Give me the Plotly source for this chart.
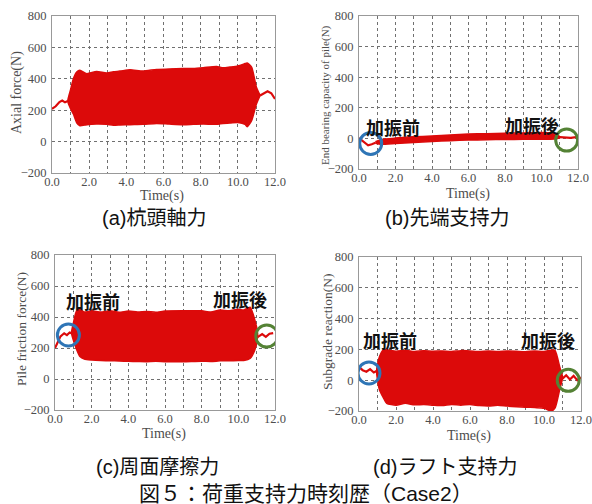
import plotly.graph_objects as go

RED = "#DC0A0A"
BLUE = "#2E75B6"
GREEN = "#548235"

# ---------------- data ----------------
# (a) pile head axial force
a_pre_t = [0.0, 0.2, 0.4, 0.55, 0.7, 0.85]
a_pre_v = [208, 225, 252, 262, 250, 258]
a_band_t = [0.85, 1.0, 1.15, 1.33, 1.5, 1.87, 2.4, 2.94, 3.3, 3.66, 4.2, 4.9, 5.63, 6.3, 7.06, 7.6,
            8.14, 8.86, 9.2, 9.58, 10.0, 10.39, 10.5, 10.74, 11.0, 11.2]
a_band_hi = [258, 330, 400, 443, 454, 433, 447, 437, 445, 449, 458, 449, 460, 462, 465, 466,
             471, 479, 470, 475, 482, 497, 501, 475, 347, 294]
a_band_lo = [258, 210, 176, 120, 101, 108, 112, 110, 104, 106, 108, 110, 116, 112, 108, 110,
             112, 110, 116, 118, 122, 110, 95, 133, 240, 294]
a_post_t = [11.2, 11.37, 11.6, 11.8, 12.0]
a_post_v = [294, 304, 321, 308, 272]

# (b) end bearing capacity of pile
b_pre_t = [0.0, 0.25, 0.5, 0.7, 0.9]
b_pre_v = [2, -20, -45, -38, -28]
b_band_t = [0.9, 1.2, 2, 3, 4, 5, 6, 7, 8, 9, 10, 10.5, 11.0]
b_band_hi = [-22, -8, 2, 10, 16, 22, 28, 31, 33, 36, 39, 36, 12]
b_band_lo = [-32, -38, -33, -26, -20, -15, -11, -9, -7, -6, -5, -6, 4]
b_post_t = [11.0, 11.3, 11.6, 12.0]
b_post_v = [8, 5, 4, 10]

# (c) pile friction force
c_pre_t = [0.0, 0.3, 0.5, 0.65, 0.8, 0.9]
c_pre_v = [200, 275, 295, 283, 300, 295]
c_band_t = [0.9, 1.0, 1.18, 1.36, 1.6, 2.0, 2.5, 3.0, 3.5, 4.0, 4.5, 5.0, 5.5, 6.0, 7.0, 8.0,
            8.5, 9.0, 9.5, 10.0, 10.3, 10.64, 10.9, 11.05]
c_band_hi = [295, 360, 441, 450, 432, 440, 432, 440, 430, 438, 432, 436, 430, 438, 440, 440,
             432, 445, 440, 450, 445, 463, 381, 295]
c_band_lo = [295, 252, 190, 145, 128, 122, 119, 118, 116, 114, 113, 112, 114, 112, 112, 115,
             113, 117, 118, 119, 120, 133, 187, 270]
c_post_t = [11.05, 11.3, 11.5, 11.7, 11.9]
c_post_v = [270, 290, 272, 292, 296]

# (d) subgrade reaction
d_pre_t = [0.0, 0.2, 0.4, 0.6, 0.8, 0.95]
d_pre_v = [86, 65, 55, 72, 50, 60]
d_band_t = [0.95, 1.1, 1.3, 1.5, 2.0, 2.5, 3.0, 3.5, 4.0, 4.5, 5.0, 5.5, 6.0, 6.5, 7.0, 7.5,
            8.0, 8.5, 9.0, 9.5, 10.0, 10.4, 10.6, 10.85, 11.0]
d_band_hi = [60, 150, 196, 198, 188, 194, 186, 192, 188, 190, 186, 192, 190, 186, 190, 186,
             190, 188, 185, 190, 186, 196, 192, 86, 25]
d_band_lo = [60, -60, -110, -150, -162, -150, -160, -158, -162, -165, -158, -162, -158, -165,
             -168, -162, -168, -172, -175, -178, -182, -200, -180, -60, 10]
d_post_t = [11.0, 11.2, 11.4, 11.6, 11.8, 12.0]
d_post_v = [10, 32, 5, 28, 0, 18]

y_titles = ["Axial force(N)", "End bearing capacity of pile(N)",
            "Pile friction force(N)", "Subgrade reaction(N)"]
x_title = "Time(s)"
captions = ["(a)杭頭軸力", "(b)先端支持力", "(c)周面摩擦力", "(d)ラフト支持力"]
fig_caption = "図５：荷重支持力時刻歴（Case2）"

# circle markers (time, value) and label positions
circles = {
    1: [(0.64, -33, BLUE), (11.38, -11, GREEN)],
    2: [(0.73, 284, BLUE), (11.55, 277, GREEN)],
    3: [(0.54, 47, BLUE), (11.31, -1, GREEN)],
}
labels = {
    1: [(1.88, 76, "加振前"), (9.46, 88, "加振後")],
    2: [(2.09, 503, "加振前"), (10.09, 516, "加振後")],
    3: [(1.68, 259, "加振前"), (10.23, 259, "加振後")],
}

W, H = 592, 504
# layout (pixels)
boxes = [(52, 275, 16, 173), (359, 578, 16, 169), (55, 275, 255, 410), (359, 581, 257, 411)]
ytitle_pos = [(17, 93, 14), (325, 95, 11), (21, 329, 13.5), (327, 332, 13.5)]
xtitle_pos = [(162, 196), (468, 194), (164, 434), (469, 436)]
cap_pos = [(154, 218), (447, 218), (157, 467), (445, 467)]

series = [
    (a_pre_t, a_pre_v, a_band_t, a_band_hi, a_band_lo, a_post_t, a_post_v),
    (b_pre_t, b_pre_v, b_band_t, b_band_hi, b_band_lo, b_post_t, b_post_v),
    (c_pre_t, c_pre_v, c_band_t, c_band_hi, c_band_lo, c_post_t, c_post_v),
    (d_pre_t, d_pre_v, d_band_t, d_band_hi, d_band_lo, d_post_t, d_post_v),
]

fig = go.Figure()
SERIF = "Liberation Serif, Times New Roman, serif"
JP = "Liberation Sans, Noto Sans CJK JP, sans-serif"
TXT = "#4d4d4d"

def paper(px, py):
    return px / W, 1 - py / H

for i, (pt, pv, bt, bh, bl, qt, qv) in enumerate(series):
    n = "" if i == 0 else str(i + 1)
    xa, ya = "x" + n, "y" + n
    fig.add_trace(go.Scatter(x=pt, y=pv, mode="lines", line=dict(color=RED, width=2.2),
                             xaxis=xa, yaxis=ya, showlegend=False, hoverinfo="skip"))
    fig.add_trace(go.Scatter(x=list(bt) + list(bt)[::-1], y=list(bh) + list(bl)[::-1],
                             mode="lines", fill="toself", fillcolor=RED,
                             line=dict(color=RED, width=1.5, shape="spline", smoothing=0.6),
                             xaxis=xa, yaxis=ya, showlegend=False, hoverinfo="skip"))
    fig.add_trace(go.Scatter(x=qt, y=qv, mode="lines", line=dict(color=RED, width=2.2),
                             xaxis=xa, yaxis=ya, showlegend=False, hoverinfo="skip"))

    l, r, t, b = boxes[i]
    grid = dict(showgrid=True, gridcolor="#707070", griddash="dot", gridwidth=1)
    fig.layout["xaxis" + n] = dict(
        domain=[l / W, r / W], anchor=ya, range=[0, 12], dtick=2, tickformat=".1f",
        minor=dict(dtick=1, **grid), **grid, automargin=False,
        showline=True, mirror=True, linecolor="#999", linewidth=1, zeroline=False,
        ticks="", ticklabelstandoff=-3, tickfont=dict(family=SERIF, size=12.5, color=TXT),
    )
    fig.layout["yaxis" + n] = dict(
        domain=[1 - b / H, 1 - t / H], anchor=xa, range=[-200, 800], dtick=200,
        **grid, showline=True, mirror=True, linecolor="#999", linewidth=1, zeroline=False,
        ticks="", ticklabelstandoff=2, automargin=False,
        tickfont=dict(family=SERIF, size=12.5, color=TXT),
    )
    yx, yy, ys = ytitle_pos[i]
    px_, py_ = paper(yx, yy)
    fig.add_annotation(text=y_titles[i], x=px_, y=py_, xref="paper", yref="paper",
                       xanchor="center", yanchor="middle", textangle=-90, showarrow=False,
                       font=dict(family=SERIF, size=ys, color=TXT))
    px_, py_ = paper(*xtitle_pos[i])
    fig.add_annotation(text=x_title, x=px_, y=py_, xref="paper", yref="paper",
                       xanchor="center", yanchor="middle", showarrow=False,
                       font=dict(family=SERIF, size=14, color=TXT))
    px_, py_ = paper(*cap_pos[i])
    fig.add_annotation(text=captions[i], x=px_, y=py_, xref="paper", yref="paper",
                       xanchor="center", yanchor="middle",
                       showarrow=False, font=dict(family=JP, size=20, color="#111"))

    for (tx, vy, col) in circles.get(i, []):
        fig.add_shape(type="circle", xref=xa, yref=ya, xsizemode="pixel", ysizemode="pixel",
                      xanchor=tx, yanchor=vy, x0=-11, x1=11, y0=-11, y1=11,
                      line=dict(color=col, width=3))
    for (tx, vy, txt) in labels.get(i, []):
        fig.add_annotation(text="<b>" + txt + "</b>", x=tx, y=vy, xref=xa, yref=ya,
                           xanchor="center", yanchor="middle",
                           showarrow=False, font=dict(family="Noto Sans CJK JP", size=18, color="#111"))

px_, py_ = paper(306, 493)
fig.add_annotation(text=fig_caption, x=px_, y=py_, xref="paper", yref="paper",
                   xanchor="center", yanchor="middle",
                   showarrow=False, font=dict(family=JP, size=21, color="#111"))

fig.update_layout(width=W, height=H, margin=dict(l=0, r=0, t=0, b=0),
                  paper_bgcolor="white", plot_bgcolor="white")
fig.write_html("out.html")
